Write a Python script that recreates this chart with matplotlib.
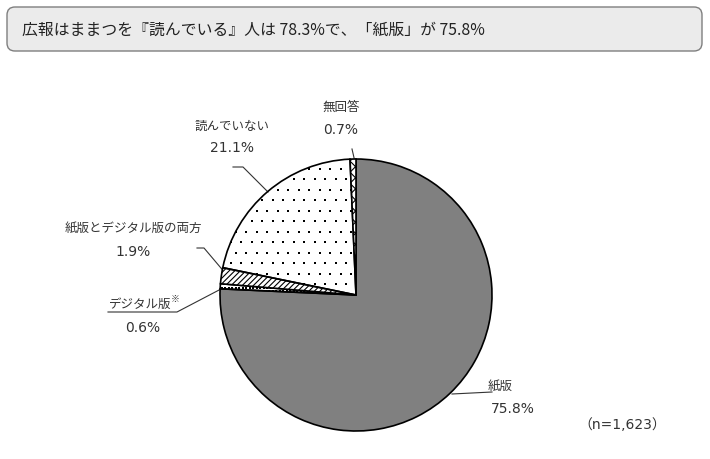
import matplotlib
matplotlib.use('Agg')
import numpy as np
import matplotlib.pyplot as plt
from matplotlib.patches import FancyBboxPatch

plt.rcParams['font.family'] = ['Noto Sans CJK JP', 'DejaVu Sans']
plt.rcParams['hatch.linewidth'] = 0.8

# data (clockwise from 12 o'clock)
labels = ['紙版', 'デジタル版※', '紙版とデジタル版の両方', '読んでいない', '無回答']
values = [75.8, 0.6, 1.9, 21.1, 0.7]
pct_text = ['75.8%', '0.6%', '1.9%', '21.1%', '0.7%']
title = '広報はままつを『読んでいる』人は 78.3%で、「紙版」が 75.8%'
n_text = '（n=1,623）'

W, H = 710, 460
fig = plt.figure(figsize=(W / 100, H / 100), dpi=100)
ax = fig.add_axes([0, 0, 1, 1])

def py(y):
    # pixel row (from top) -> data y
    return H - y

# title box
box = FancyBboxPatch((7, py(52)), 695, 44, boxstyle='round,pad=0,rounding_size=8',
                     facecolor='#ebebeb', edgecolor='#7f7f7f', linewidth=1.0)
ax.add_patch(box)
ax.text(22, py(30), title, fontsize=11.4, va='center', ha='left', color='#222222')

# pie
cx, cy, r = 356, py(296), 136
wedges, _ = ax.pie(values, startangle=90, counterclock=False, center=(cx, cy),
                   radius=r, frame=True,
                   wedgeprops=dict(edgecolor='black', linewidth=1.2))
ax.set_xlim(0, W)
ax.set_ylim(0, H)
ax.set_aspect('equal')
ax.axis('off')
fills = ['#808080', 'none', 'white', 'none', 'white']
hatches = [None, None, '//////', None, 'xxx']
for w, fc, h in zip(wedges, fills, hatches):
    w.set_facecolor(fc)
    w.set_zorder(3)
    if h:
        w.set_hatch(h)

# dot textures (clipped to wedge)
def dots(wedge, step, size):
    gx, gy = np.meshgrid(np.arange(cx - r, cx + r, step), np.arange(cy - r, cy + r, step))
    gx = gx + (np.arange(gx.shape[0])[:, None] % 2) * step / 2
    sc = ax.scatter(gx.ravel(), gy.ravel(), s=size, c='black', marker='s',
                    linewidths=0, zorder=2)
    sc.set_clip_path(wedge)

dots(wedges[3], 10.5, 2.2)
dots(wedges[1], 3.5, 1.5)

# labels and leader lines
lab_pos = [(500, 386), (140, 304), (133, 228), (232, 126), (341, 107)]
pct_pos = [(513, 409), (143, 328), (133, 252), (232, 148), (341, 130)]
for lab, p, (lx, ly), (px_, pyy) in zip(labels, pct_text, lab_pos, pct_pos):
    if lab.endswith('※'):
        ax.text(lx, py(ly), lab[:-1], fontsize=9, ha='center', va='center', color='#333333')
        ax.text(lx + 31, py(ly - 5), '※', fontsize=6.5, ha='left', va='center', color='#333333')
    else:
        ax.text(lx, py(ly), lab, fontsize=9, ha='center', va='center', color='#333333')
    ax.text(px_, py(pyy), p, fontsize=10, ha='center', va='center', color='#333333',
            family='DejaVu Sans')

lc = dict(color='#333333', linewidth=0.8)
ax.plot([452, 492], [py(395), py(393)], **lc)
ax.plot([108, 177, 221], [py(313), py(313), py(290)], **lc)
ax.plot([197, 204, 226], [py(249), py(249), py(275)], **lc)
ax.plot([233, 243, 268], [py(168), py(168), py(193)], **lc)
ax.plot([352, 355], [py(150), py(163)], **lc)

ax.text(622, py(425), n_text, fontsize=10, ha='center', va='center', color='#333333',
        family=['DejaVu Sans', 'Noto Sans CJK JP'])

fig.savefig('out.png', dpi=100)
